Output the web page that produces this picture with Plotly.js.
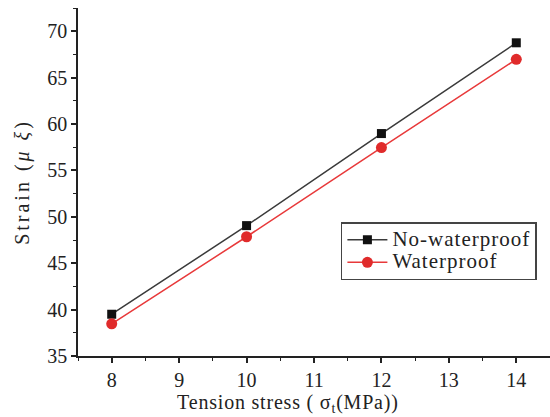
<!DOCTYPE html>
<html>
<head>
<meta charset="utf-8">
<script src="https://cdn.plot.ly/plotly-3.0.1.min.js"></script>
<style>
html,body{margin:0;padding:0;background:#fff;}
.xtitle{letter-spacing:0.8px;}
.ytitle{letter-spacing:3px;}
.legendtext{font-size:21px !important; letter-spacing:1px;}
</style>
</head>
<body>
<div id="chart" style="width:550px;height:417px;"></div>
<script>
const stress = [8, 10, 12, 14];
const noWaterproof = [39.5, 49.05, 58.97, 68.75];
const waterproof = [38.47, 47.85, 57.46, 66.97];
const seriesNames = ["No-waterproof", "Waterproof"];

const serif = "Liberation Serif, Times New Roman, serif";

const traces = [
  {
    x: stress, y: noWaterproof, name: seriesNames[0], type: "scatter", mode: "lines+markers",
    line: {color: "#3a3a3a", width: 1.5},
    marker: {symbol: "square", size: 9, color: "#111"}
  },
  {
    x: stress, y: waterproof, name: seriesNames[1], type: "scatter", mode: "lines+markers",
    line: {color: "#e8393a", width: 1.5},
    marker: {symbol: "circle", size: 11, color: "#e02b2b"}
  }
];

const layout = {
  width: 550, height: 417,
  margin: {l: 78, r: 0, t: 8, b: 61},
  paper_bgcolor: "#fff", plot_bgcolor: "#fff",
  font: {family: serif, color: "#222", size: 20},
  showlegend: true,
  legend: {
    x: 0.557, y: 0.385, xanchor: "left", yanchor: "top",
    bordercolor: "#444", borderwidth: 1.5, bgcolor: "#fff",
    font: {family: serif, size: 15, color: "#222"},
    tracegroupgap: 0, itemwidth: 40
  },
  xaxis: {
    range: [7.5, 14.5], dtick: 1, tick0: 8,
    showgrid: false, zeroline: false,
    showline: true, linecolor: "#222", linewidth: 1.5,
    ticks: "outside", ticklen: 5, tickwidth: 1.5, tickcolor: "#222",
    minor: {ticks: "outside", dtick: 0.5, tick0: 7.5, ticklen: 3, tickwidth: 1.2, tickcolor: "#222"},
    tickfont: {family: serif, size: 20, color: "#222"},
    title: {text: "Tension stress ( σ<sub>t</sub>(MPa))&nbsp;&nbsp;&nbsp;&nbsp;&nbsp;&nbsp;&nbsp;&nbsp;&nbsp;", font: {family: serif, size: 20, color: "#222"}, standoff: 3}
  },
  yaxis: {
    range: [35, 72.5], dtick: 5, tick0: 35,
    showgrid: false, zeroline: false,
    showline: true, linecolor: "#222", linewidth: 1.5,
    ticks: "outside", ticklen: 5, tickwidth: 1.5, tickcolor: "#222",
    minor: {ticks: "outside", dtick: 2.5, tick0: 35, ticklen: 3, tickwidth: 1.2, tickcolor: "#222"},
    tickfont: {family: serif, size: 20, color: "#222"},
    title: {text: "Strain (<i>μ ξ</i>)", font: {family: serif, size: 20, color: "#222"}, standoff: 12}
  }
};

Plotly.newPlot("chart", traces, layout, {displayModeBar: false, responsive: false});
</script>
</body>
</html>
